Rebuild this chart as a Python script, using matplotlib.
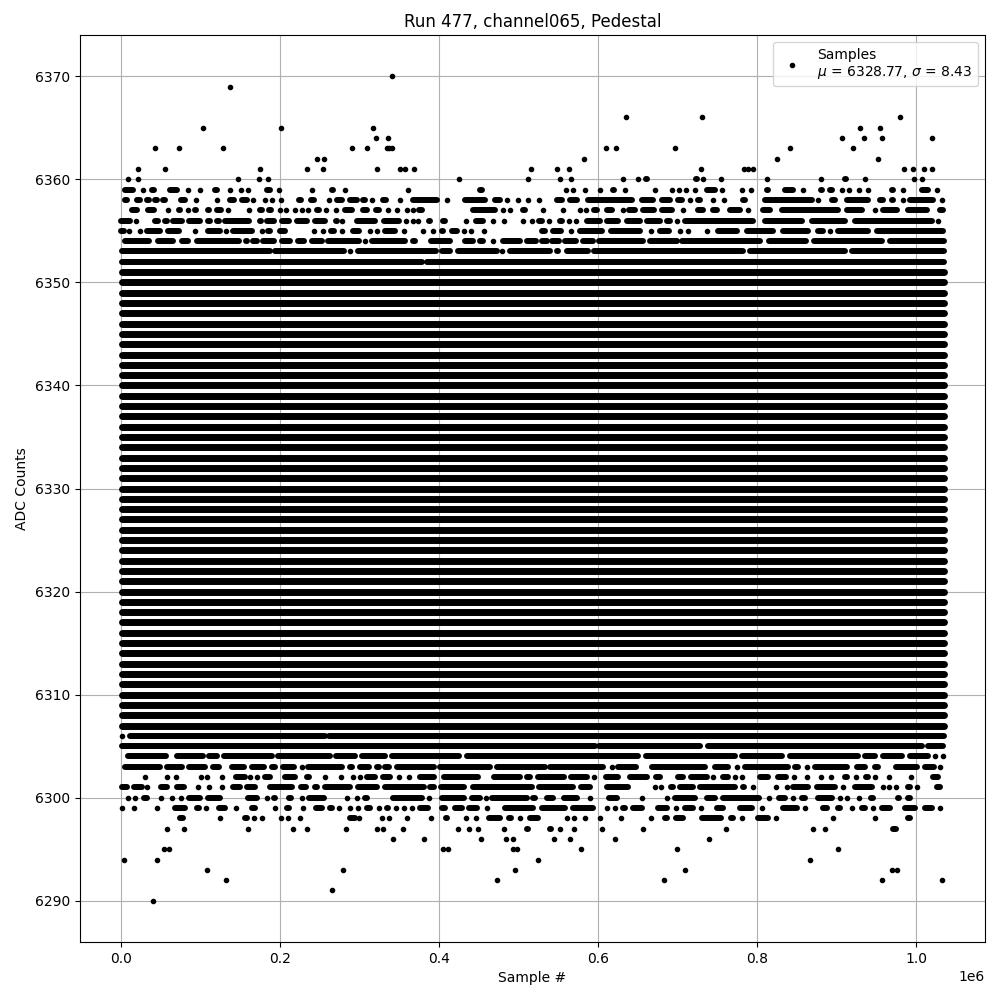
import matplotlib
matplotlib.use("Agg")
import matplotlib.pyplot as plt

# x in thousands of samples
# plain number = lone sample, tuple = stretch of samples too tight to separate
lvl_6370 = [340.5]
lvl_6369 = [137.5]
lvl_6366 = [635.6, 731, 980.3]
lvl_6365 = [103.6, 201.7, 317.4, 930, 955.1]
lvl_6364 = [321.2, 336.3, 907.3, 935, 957.6, 1020.5]
lvl_6363 = [42, 73.4, 128.7, 291, 309.9, 334.2, 337, 340.5, 610.5, 623, 697, 842, 921.2]
lvl_6362 = [247, 255.8, 582.8, 825.6, 952.6]
lvl_6361 = [21.8, 55.8, 175.3, 234.4, 254.5, 322.5, 351, 357, 368, 516, 548, 564, 730,
            784, 789, 795.4, 985.3, 996.6, 1010, 1020.5]
lvl_6360 = [9.2, 20.6, 147.6, 174, 185.3, 425.5, 512.3, 552.6, 566.4, 631.8, 650.7, (658, 663),
            (721, 726), 732.5, 754.3, 813, 881, (908.6, 913.6), 936.3, 997.9, 1008]
lvl_6359 = [(3, 17), 27, (36.5, 43.6), (59.6, 72), 84.7, 99.8, (116, 122.5), 137, 151.4, 159,
            (181, 189.5), 198, 240.7, (263, 269), 281, 361.4, (449.4, 455.7), 560, 569, 584,
            602.5, (616.3, 622.6), 634, 672, 693.5, 702.3, 711, 722, (734.6, 749.2), 756.4, 781.5,
            792.9, (810, 816.3), (833, 847.8), 858.3, (878.4, 883.4), (889.7, 896), 906.9, 916.1,
            928.7, 940, (967.3, 973.6), 984, (1005, 1017.6), 1026.8]
lvl_6358 = [(3, 9), (17.6, 26), (30, 36.5), (40.7, 47), (51, 57.5), (61.7, 65.8), (73.4, 81.8), 94,
            120, (135, 143.4), (150.5, 160), 166.5, (179, 183), 190, 201.7, (221.8, 228),
            (236.5, 244), 262, (269, 279.7), (286, 298.6), (302.7, 309), 315.7, (328, 335), 351,
            (365.6, 399), 409.6, (430.6, 460), (468, 478.8), 486, 499.8, 512.3, 526, (546, 556.4),
            (562.6, 575.2), (585.7, 644.4), (652.8, 671.7), (678.8, 692.6), (699, 707.3), 716,
            (724, 730.4), 745, 758.9, (780.7, 787), (808, 870.8), 877.1, (891.8, 900.2),
            (910.7, 942.1), (952.6, 961), (967.3, 973.6), 984, (990.3, 1023.9), 1032.3]
lvl_6357 = [(11.3, 21.8), (32.3, 42.8), 58.7, (70.9, 76.3), 83.5, (91, 96.5), (107, 112), (118, 127.9),
            135, 161.4, (172.8, 179), (184, 190.8), 200.4, 207.6, 219.3, 228, 235.7, (244, 250.3),
            258.3, 270.9, (279.7, 293), (302.7, 311), (318.3, 325.8), 335.5, 346.8, 360, 367,
            (372.7, 380.3), (388.6, 392.8), (441, 472.5), 480.9, 489.3, (504, 510.2), 531, 556.4,
            577.7, 584.9, (593.3, 600.4), (608.8, 619.3), 631, (637.3, 648.6), (654.9, 672.9),
            (678, 694.7), 706.5, (724, 734.6), (743, 751.3), (763.9, 780.7), 789, (805.8, 818.4),
            (828.9, 904.4), (910.7, 933.7), 948.4, (956.8, 977.8), (988.2, 1015.5), (1028, 1034)]
lvl_6356 = [(0, 13.4), 18.9, (40.7, 49), (53.3, 59.6), (63.8, 78.4), (83.5, 101.5), (107, 114),
            (118, 124.5), (128.7, 162.3), (172.8, 178.2), (181, 193.7), (200, 212.6), (218.9, 235.7),
            (242, 258.7), (268, 273.4), 277.6, (294.4, 321.6), (329.2, 351), 358.4, 366.8, 374,
            (385.3, 390.7), (403, 409.6), 434, (444, 457.8), 468.3, 482, 506, 517.4, (523.6, 531.2),
            538.3, (550, 556.4), 563.9, 572.7, (583.6, 604.6), (608.8, 627.6), (634, 654.9),
            (659, 680), (684.2, 692.6), 699.8, (707.3, 797.5), (808, 858.3), (866.6, 912.8),
            (921, 1021.8), 1028]
lvl_6355 = [(0, 5), 10.5, 23.5, (30, 51.2), (57.5, 74.2), 92.3, (107.8, 126.6), 132, (138.4, 166.5),
            177.8, (183.3, 189.5), (198, 208.4), 242, 253.7, (262, 270), 277.6, (290, 301.5), 313.6,
            322.5, (330, 346.8), 356.4, 380.3, 392.8, (401.2, 407.5), (413.8, 424.3), 431.4, 440.2,
            457, (527, 535.4), (541.7, 555.1), 565.6, (575.2, 606.7), (614.2, 654.9), 666.2,
            (675.9, 691.4), 703.1, 713.6, 737.5, (749.2, 776.5), (784.9, 822.6), (831, 866.6),
            (875, 885.5), 891.8, (900.2, 942.1), (948.4, 1034)]
lvl_6354 = [(3, 36.5), (44.9, 66.7), (74.2, 86), (93, 149.7), (154.7, 160), (164.4, 172.8), (177, 193.7),
            (200, 214.7), (221, 231.5), (237.8, 254.5), (258.7, 300.7), 307, (313.2, 359.3),
            (365.6, 371.9), (387.8, 415.9), (430.6, 445.2), (449.4, 457.8), 468.3, (478.8, 504),
            (508.1, 523.6), (527, 537.5), (540.4, 553.4), (556.4, 574.4), (579.4, 596.2), (599.1, 659.1),
            (663.3, 701), (704, 805.9), (813, 863.3), (869.6, 958.9), (965.2, 1035)]
lvl_6353 = [(0.9, 189.5), (191.6, 281.8), 288, (296.5, 397.9), (401.2, 415.9), (422.2, 474.6), 478.8,
            (487.2, 541.7), (545.9, 552.2), (558.5, 589.9), (593.3, 784.9), (789, 912.8), (917, 1035)]
lvl_6352 = [(0.9, 380.3), (383, 1035)]

lvl_6306 = [1.7, (9.2, 257.9), (260, 1035)]
lvl_6305 = [(0.9, 597.5), (599, 730.4), (735.8, 1009.2), (1013.4, 1034)]
lvl_6304 = [(6.3, 58.3), (68, 104.4), (108.6, 122.5), (127.9, 191.6), (195.8, 264.2), (268.4, 296.5),
            (300.7, 334.2), (338.4, 427.2), (433.5, 652), (657.8, 774.4), (778.6, 833), (839.4, 929.5),
            (933.7, 950.5), (956.8, 984), (990.3, 1017.6), 1024, 1033.5]
lvl_6303 = [(3, 51.2), (55.4, 78.4), (83.5, 107.8), (114, 125.4), (138, 156), (162.3, 181.2), (188.3, 195.8),
            (202.1, 218.9), 226.9, (233.6, 279.7), (286, 292.3), (298.6, 313.2), (319.5, 325.8),
            (330, 338.4), (344.7, 395), (399.1, 466.2), (470.4, 535.4), (537.5, 608.8), 617.2,
            (623.5, 649.4), (665.4, 736.7), (745, 766), 775.2, (782.8, 840.6), (845.7, 854), 863.3,
            (870.8, 914.9), (924, 938), (946.3, 954.7), (972.3, 1003), (1009.2, 1024), 1030.2]
lvl_6302 = [29.4, 58.3, 69.6, (98.6, 101.5), 108.6, 127.5, (142.6, 158.1), 162.3, 170.3, (179, 189.5),
            (204.2, 221), (231.5, 237.8), 257, 277.2, 292.3, 301, (307.8, 321.6), (327.9, 340.5), 349,
            362.6, (374, 395), (404.6, 451.5), (467.5, 504), (508.1, 516.5), (522.8, 558.5),
            (563.5, 587.8), 595.3, (607.5, 627.6), (638.1, 663.3), (670.9, 680), (699, 709.4),
            (714.9, 738.8), 745, (755.5, 766), 772.3, 781.5, (801.7, 815.5), (823.9, 838.1), 847, 863.3,
            880.5, 893.5, (908.6, 914.9), 924, (934.6, 942), 948.8, 966.4, 994.1, (1019.7, 1030.2)]
lvl_6301 = [(0.9, 9.2), (14.3, 28.1), 32.3, (48.2, 59.6), (68, 80.5), 97.3, 111.1, 127.5, (139.2, 151.8),
            (156.8, 170.7), (185.3, 216.8), (224, 234.4), (242, 248.2), (254.5, 290.2), (296.5, 323.7),
            (330, 382.4), (386.5, 395), (400.4, 432.7), (441, 518.6), (523.6, 571), (576.5, 592),
            (608.8, 640.2), 671.7, 679.6, (689.7, 696.8), (701, 722), (726.2, 774.4), (780.7, 786.1),
            795.4, 824.3, 837.3, (843.6, 865.8), (873, 900.2), 908.6, (921.2, 947.2), 958, 966, 974.4,
            (988.2, 994.5), 1000.8, (1023.9, 1032.3)]
lvl_6300 = [9.2, 18, (26.9, 34.4), 50.7, 64.2, 75.9, (83.5, 101.5), (107, 126.6), (157.3, 172.8), 183.3,
            (190.8, 195.8), (209.7, 215.5), 228.1, (234.4, 256.6), 284.7, 297.3, (304.8, 311.1),
            (339.6, 380.3), 387.8, (401.2, 432.7), (439, 453.6), 459.1, (465, 512.3), (516.5, 522.8),
            (533.3, 545.9), (555.1, 575.2), 590.3, (611.7, 625.5), (642.3, 646.5), 655.7, 687.2,
            (694.7, 724), (734.6, 749.2), (755.5, 804.6), 815.5, (825.6, 837.3), 844.8, (854, 862.5),
            (874.2, 896), 904.8, 913.6, 928.7, (941.3, 948.4), (974.8, 980.7), (988.2, 994.5)]
lvl_6299 = [1.3, 16.8, 45.7, (65.8, 81.8), (93, 99.4), 107, (121.2, 132.1), 145, (162.3, 170.7), 193.7,
            (206.3, 212.6), 229.4, (243.2, 254.5), (260.8, 267), 274.7, 288.5, 298.6, (307, 315.3), 325,
            (332, 337.6), 346.4, 356, 365.6, (374, 388.6), (401.2, 408.8), (418, 430.6), (436, 449.4),
            460.8, (480.9, 520.7), (527, 560.6), (566.8, 596.2), 611.7, 621.8, (629.7, 636), (642.3, 657),
            (673.8, 688.4), 698.5, (707.3, 722), 729, (747, 759.7), (776.5, 795.4), 806.7, (831, 852),
            860.4, (880.5, 889.7), (899.4, 906.5), 919.9, (929.5, 938), 946.3, (954.7, 969.4),
            (984, 1000.8), (1009.2, 1022.6), 1030.6]
lvl_6298 = [(72, 79.7), 125, (153.9, 160.2), 167.7, 177.8, 201.7, 210.5, 225.6, (286, 296.5), 299.8, 327.9,
            337.6, 360.1, 390.3, (406.3, 411.7), 434.3, 446.9, (460.8, 478), (485.9, 492.6), 502.3,
            (512.3, 527), 561.4, 570.2, 584, 602.9, 629.3, 667, (682, 688.4), (695.6, 708.6), (715.7, 720),
            (728.3, 756.8), (765, 772.3), 781.5, (799.6, 816.3), 824.3, 896, 948.8, (988.2, 994.5)]
lvl_6297 = [58.3, 79.7, 159, 216.8, 233.2, 283.5, 322.5, 330, 355, (376, 381), 424.3, 438.1, 449.4, 482.1,
            (508.1, 513.6), (537.5, 543), 552.6, 570.2, 605.4, 657, 761.4, 870.8, 886, (969.4, 976.5)]
lvl_6296 = [342.6, 381.5, 453.2, 484.7, 493.5, 545, 565.2, 621.8, 740]
lvl_6295 = [54.5, 59.6, 404.6, 410.9, 493.5, 497.6, 579, 699.8, 902.3]
lvl_6294 = [3, 45.7, 524.9, 867]
lvl_6293 = [108.6, 279.7, 496, 709.8, 969.4, 975.7]
lvl_6292 = [131.3, 473.3, 683.4, 957.6, 1033.1]
lvl_6291 = [265.8]
lvl_6290 = [40.7]

# rows that run solid from the first sample to the last
solid_levels = [6351, 6350, 6349, 6348, 6347, 6346, 6345, 6344, 6343, 6342, 6341, 6340, 6339, 6338, 6337,
                6336, 6335, 6334, 6333, 6332, 6331, 6330, 6329, 6328, 6327, 6326, 6325, 6324, 6323, 6322,
                6321, 6320, 6319, 6318, 6317, 6316, 6315, 6314, 6313, 6312, 6311, 6310, 6309, 6308, 6307]
solid_span = (0.9, 1035)

rows = {6370: lvl_6370, 6369: lvl_6369, 6366: lvl_6366, 6365: lvl_6365, 6364: lvl_6364, 6363: lvl_6363,
        6362: lvl_6362, 6361: lvl_6361, 6360: lvl_6360, 6359: lvl_6359, 6358: lvl_6358, 6357: lvl_6357,
        6356: lvl_6356, 6355: lvl_6355, 6354: lvl_6354, 6353: lvl_6353, 6352: lvl_6352, 6306: lvl_6306,
        6305: lvl_6305, 6304: lvl_6304, 6303: lvl_6303, 6302: lvl_6302, 6301: lvl_6301, 6300: lvl_6300,
        6299: lvl_6299, 6298: lvl_6298, 6297: lvl_6297, 6296: lvl_6296, 6295: lvl_6295, 6294: lvl_6294,
        6293: lvl_6293, 6292: lvl_6292, 6291: lvl_6291, 6290: lvl_6290}

fig, ax = plt.subplots(figsize=(10, 10))
fig.subplots_adjust(left=0.08, right=0.985, bottom=0.058, top=0.965)

# stretches were read edge to edge, the round cap adds some of this back on each side
cap = 2

single_x = []
single_y = []
for lvl, samples in rows.items():
    for s in samples:
        if isinstance(s, tuple):
            a = s[0] + cap if s[0] > 1 else s[0]
            b = s[1] - cap if s[1] < 1033 else s[1]
            if b <= a:
                a = b = (s[0] + s[1]) / 2
                single_x.append(a*1000)
                single_y.append(lvl)
            else:
                ax.plot([a*1000, b*1000], [lvl, lvl], color="k", lw=4.3, solid_capstyle="round", snap=True)
        else:
            single_x.append(s*1000)
            single_y.append(lvl)

for lvl in solid_levels:
    ax.plot([solid_span[0]*1000, solid_span[1]*1000], [lvl, lvl], color="k", lw=5,
            solid_capstyle="round", snap=True)

ax.plot(single_x, single_y, "k.", label="Samples\n$\\mu$ = 6328.77, $\\sigma$ = 8.43")

ax.set_xlim(-51750, 1086750)
ax.set_ylim(6286, 6374)
ax.set_title("Run 477, channel065, Pedestal", pad=5.5)
ax.set_xlabel("Sample #")
ax.set_ylabel("ADC Counts")
ax.grid(True)
ax.legend(loc="upper right")
plt.savefig("out.png", dpi=100)
